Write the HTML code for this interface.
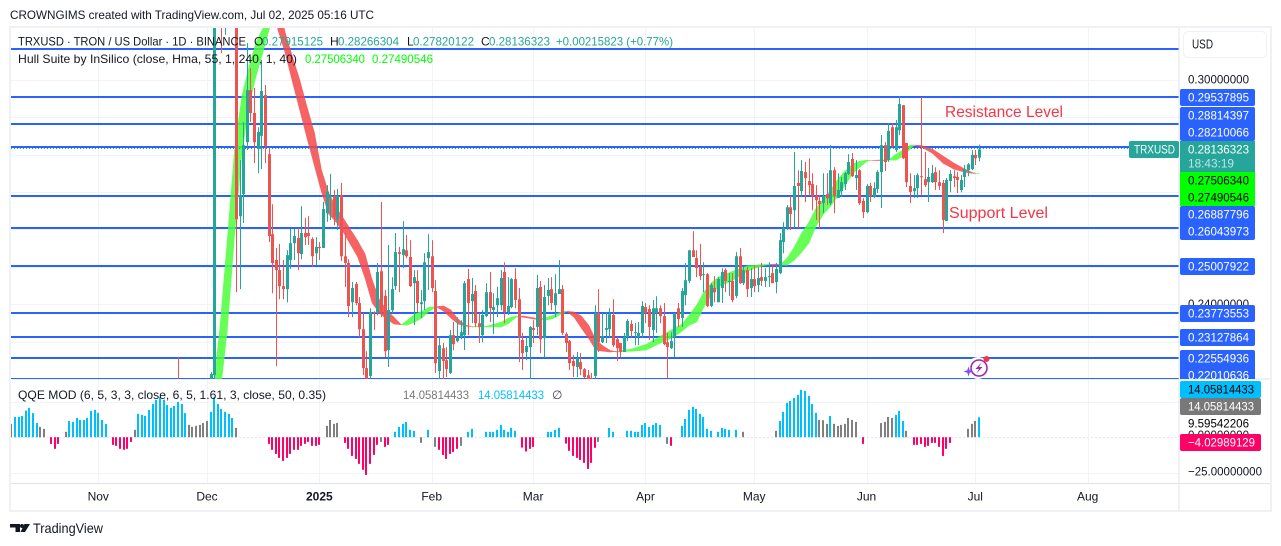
<!DOCTYPE html>
<html lang="en">
<head>
<meta charset="utf-8">
<title>TRXUSD chart</title>
<style>
html,body{margin:0;padding:0;background:#fff;width:1281px;height:546px;overflow:hidden}
svg{display:block}
text{font-family:"Liberation Sans",sans-serif;font-size:12px;fill:#131722;dominant-baseline:central}
.lb{fill:#fff}
.dk{fill:#000}
.tq{fill:#26a69a}
.lm{fill:#00ff00}
</style>
</head>
<body>
<svg id="chart" width="1281" height="546" viewBox="0 0 1281 546" xmlns="http://www.w3.org/2000/svg">
<defs>
<clipPath id="main-clip"><rect x="11" y="28" width="1168" height="351"/></clipPath>
<clipPath id="qqe-clip"><rect x="11" y="380" width="1168" height="103"/></clipPath>
<clipPath id="axis-clip"><rect x="1180" y="28" width="90" height="351"/></clipPath>
</defs>
<rect x="10" y="27" width="1261" height="484" fill="#fff" stroke="#f0f1f4" stroke-width="2"/>
<g id="grid"></g>
<g clip-path="url(#main-clip)">
<g id="levels"></g>
<g id="hull" opacity="0.85"></g>
<g id="candles"></g>
<line id="last-price" x1="11" x2="1130" stroke="#26a69a" stroke-width="1" stroke-dasharray="1 2"/>
</g>
<g clip-path="url(#qqe-clip)"><g id="qqe"></g></g>
<line x1="1179" y1="28" x2="1179" y2="510" stroke="#e0e3eb"/>
<line x1="1179" y1="379" x2="1270" y2="379" stroke="#e0e3eb"/>
<line x1="11" y1="483.5" x2="1270" y2="483.5" stroke="#e0e3eb"/>

<text x="10" y="15" textLength="364" lengthAdjust="spacingAndGlyphs">CROWNGIMS created with TradingView.com, Jul 02, 2025 05:16 UTC</text>

<g>
<text x="18" y="41.5" textLength="228" lengthAdjust="spacingAndGlyphs">TRXUSD · TRON / US Dollar · 1D · BINANCE</text>
<text x="254" y="41.5">O</text>
<text class="tq" x="262" y="41.5" textLength="61" lengthAdjust="spacingAndGlyphs">0.27915125</text>
<text x="330" y="41.5">H</text>
<text class="tq" x="338" y="41.5" textLength="61" lengthAdjust="spacingAndGlyphs">0.28266304</text>
<text x="407" y="41.5">L</text>
<text class="tq" x="413" y="41.5" textLength="61" lengthAdjust="spacingAndGlyphs">0.27820122</text>
<text x="481" y="41.5">C</text>
<text class="tq" x="489" y="41.5" textLength="61" lengthAdjust="spacingAndGlyphs">0.28136323</text>
<text class="tq" x="556" y="41.5" textLength="117" lengthAdjust="spacingAndGlyphs">+0.00215823 (+0.77%)</text>
</g>
<g>
<text x="18" y="59" textLength="279" lengthAdjust="spacingAndGlyphs">Hull Suite by InSilico (close, Hma, 55, 1, 240, 1, 40)</text>
<text class="lm" x="305" y="59" textLength="60" lengthAdjust="spacingAndGlyphs">0.27506340</text>
<text class="lm" x="372" y="59" textLength="61" lengthAdjust="spacingAndGlyphs">0.27490546</text>
</g>
<g>
<text x="18" y="395" textLength="308" lengthAdjust="spacingAndGlyphs">QQE MOD (6, 5, 3, 3, close, 6, 5, 1.61, 3, close, 50, 0.35)</text>
<text x="403" y="395" textLength="66" lengthAdjust="spacingAndGlyphs" style="fill:#787878">14.05814433</text>
<text x="478" y="395" textLength="66" lengthAdjust="spacingAndGlyphs" style="fill:#00bfff">14.05814433</text>
<text x="552" y="395" style="fill:#434651">∅</text>
</g>

<text x="945" y="112.5" textLength="118" lengthAdjust="spacingAndGlyphs" style="font-size:16px;fill:#f23645">Resistance Level</text>
<text x="949" y="213.5" textLength="99" lengthAdjust="spacingAndGlyphs" style="font-size:16px;fill:#f23645">Support Level</text>

<g>
<rect x="1183.5" y="31.5" width="83" height="26" rx="5" fill="#fff" stroke="#f0f1f4"/>
<text x="1192" y="44" textLength="21" lengthAdjust="spacingAndGlyphs" style="font-size:13px">USD</text>
</g>

<g>
<text x="1188" y="79.5" textLength="61" lengthAdjust="spacingAndGlyphs">0.30000000</text>
<text x="1188" y="304" textLength="61" lengthAdjust="spacingAndGlyphs">0.24000000</text>
<rect x="1180" y="89" width="75" height="17" rx="2" fill="#2962ff"/>
<text class="lb" x="1188" y="97.5" textLength="61" lengthAdjust="spacingAndGlyphs">0.29537895</text>
<rect x="1180" y="107" width="75" height="34" rx="2" fill="#2962ff"/>
<text class="lb" x="1188" y="115.5" textLength="61" lengthAdjust="spacingAndGlyphs">0.28814397</text>
<text class="lb" x="1188" y="132.5" textLength="61" lengthAdjust="spacingAndGlyphs">0.28210066</text>
<rect x="1180" y="206" width="75" height="34" rx="2" fill="#2962ff"/>
<text class="lb" x="1188" y="214.5" textLength="61" lengthAdjust="spacingAndGlyphs">0.26887796</text>
<text class="lb" x="1188" y="231.5" textLength="61" lengthAdjust="spacingAndGlyphs">0.26043973</text>
<rect x="1180" y="141" width="75" height="31" fill="#26a69a"/>
<text class="lb" x="1188" y="149.5" textLength="61" lengthAdjust="spacingAndGlyphs">0.28136323</text>
<text x="1188" y="163.5" textLength="46" lengthAdjust="spacingAndGlyphs" style="fill:#bfe5e1">18:43:19</text>
<rect x="1180" y="172" width="75" height="34" fill="#00ff00"/>
<text class="dk" x="1188" y="180.5" textLength="61" lengthAdjust="spacingAndGlyphs">0.27506340</text>
<text class="dk" x="1188" y="197.5" textLength="61" lengthAdjust="spacingAndGlyphs">0.27490546</text>
<rect x="1180" y="258" width="75" height="17" rx="2" fill="#2962ff"/>
<text class="lb" x="1188" y="266.5" textLength="61" lengthAdjust="spacingAndGlyphs">0.25007922</text>
<rect x="1180" y="305" width="75" height="17" rx="2" fill="#2962ff"/>
<text class="lb" x="1188" y="313.5" textLength="61" lengthAdjust="spacingAndGlyphs">0.23773553</text>
<rect x="1180" y="329" width="75" height="17" rx="2" fill="#2962ff"/>
<text class="lb" x="1188" y="337.5" textLength="61" lengthAdjust="spacingAndGlyphs">0.23127864</text>
<g clip-path="url(#axis-clip)">
<rect x="1180" y="350" width="75" height="34" rx="2" fill="#2962ff"/>
<text class="lb" x="1188" y="358.5" textLength="61" lengthAdjust="spacingAndGlyphs">0.22554936</text>
<text class="lb" x="1188" y="375.5" textLength="61" lengthAdjust="spacingAndGlyphs">0.22010636</text>
</g>
</g>
<g>
<rect x="1129" y="141" width="50" height="17" rx="2" fill="#26a69a"/>
<text class="lb" x="1134" y="149.5" textLength="41" lengthAdjust="spacingAndGlyphs">TRXUSD</text>
</g>

<g>
<text x="1188" y="435" textLength="61" lengthAdjust="spacingAndGlyphs">0.00000000</text>
<rect x="1180" y="381" width="81" height="17" rx="2" fill="#00bfff"/>
<text class="dk" x="1188" y="389.5" textLength="66" lengthAdjust="spacingAndGlyphs">14.05814433</text>
<rect x="1180" y="398" width="81" height="17" rx="2" fill="#787878"/>
<text class="lb" x="1188" y="406.5" textLength="66" lengthAdjust="spacingAndGlyphs">14.05814433</text>
<text class="dk" x="1188" y="423.5" textLength="61" lengthAdjust="spacingAndGlyphs">9.59542206</text>
<rect x="1180" y="434" width="81" height="17" rx="2" fill="#ff0066"/>
<text class="lb" x="1188" y="442.5" textLength="67" lengthAdjust="spacingAndGlyphs">−4.02989129</text>
<text x="1188" y="471.5" textLength="74" lengthAdjust="spacingAndGlyphs">−25.00000000</text>
</g>

<g id="time-axis"></g>

<g transform="translate(979 368)">
<circle cx="-1" r="11" fill="#fff"/>
<circle r="8" fill="none" stroke="#9c27b0" stroke-width="1.6"/>
<path d="M2.5-5.5-3.5 1H0L-2.5 5.5 3.5-1H0Z" fill="#9c27b0"/>
<circle cx="7.5" cy="-9" r="3" fill="#f23645"/>
<path d="M-10.5-1.5-9.3 2.3-5.5 3.5-9.3 4.7-10.5 8.5-11.7 4.7-15.5 3.5-11.7 2.3Z" fill="#7b4dff"/>
</g>

<g>
<path d="M10 524H20V532H15.5V527.5H10ZM24.5 524H30L25 532H20.5Z" fill="#131722"/>
<circle cx="22" cy="526" r="2" fill="#131722"/>
<text x="33" y="528" textLength="70" lengthAdjust="spacingAndGlyphs" style="font-size:14px">TradingView</text>
</g>
</svg>

<script>
/* Prices are in thousandths of a US dollar (mUSD). One candle per day, oldest first; the last one is the current bar. */
const opens = [
216,215,216,215,217,216,217,216,218,217,
221.0,330,338,325,332,325,330,263.5,269.4,283.3,
297.2,291.1,281.5,285.0,295.9,280.1,258.7,251.8,249.1,244.8,
244.0,251.8,256.3,257.7,253.4,259.0,259.0,257.4,253.6,255.3,
255.0,264.3,268.6,268.9,262.7,269.2,252.8,251.0,240.5,245.4,
240.3,233.3,222.9,220.8,237.9,237.6,248.8,242.2,227.7,238.4,
244.8,253.9,253.1,254.4,252.6,245.6,246.2,240.0,240.8,252.3,
252.8,243.5,222.1,228.2,225.0,221.6,231.7,230.1,231.2,231.7,
246.7,240.8,243.5,234.9,231.7,236.8,243.2,238.4,239.7,239.7,
248.6,237.9,239.2,246.7,241.3,230.4,227.2,228.5,233.6,233.9,
244.6,230.9,242.2,244.0,239.7,242.7,244.0,232.0,230.1,224.8,
223.2,224.5,222.6,221.0,220.2,220.8,237.6,229.8,233.1,233.3,
237.1,230.6,229.6,227.2,231.2,234.7,232.3,231.2,232.3,239.2,
238.7,233.1,237.6,238.9,236.8,229.8,228.2,231.2,238.9,236.3,
242.4,246.2,254.4,252.3,249.9,247.8,248.0,239.5,244.3,240.5,
244.3,249.1,245.9,246.2,242.2,252.8,245.6,249.1,244.3,246.7,
245.1,247.2,246.2,247.2,248.3,245.9,248.3,256.6,260.6,265.9,
265.1,272.4,270.2,275.3,272.9,272.1,268.9,267.6,267.0,269.4,
267.0,275.8,268.4,270.2,272.1,274.8,278.8,273.7,275.8,267.6,
264.6,271.6,268.6,270.8,275.3,282.5,278.5,287.3,281.2,286.5,
293.2,283.1,271.6,270.2,271.0,274.2,273.4,272.6,272.6,275.3,
272.6,272.4,262.2,272.9,274.2,274.0,270.5,274.0,275.8,276.1,279.9,279.15
];
const highs = [
225.9,217,218,218,219,218,219,218,219.5,221.8,
336,345,345,340,338,336,340,278.5,288.7,309.8,
303.1,297.8,287.3,305.3,298.6,282.0,266.7,255.0,256.1,251.8,
254.4,260.1,260.1,260.3,266.2,263.0,263.5,257.9,257.9,256.6,
267.3,271.8,274.8,270.5,270.8,272.4,259.0,252.0,245.9,245.9,
241.9,237.6,227.4,238.9,238.1,251.0,267.3,243.8,255.8,247.2,
259.0,255.3,262.2,258.5,257.1,249.1,249.1,243.8,253.6,258.7,
257.1,246.4,231.2,229.6,228.5,233.1,235.2,236.5,235.7,246.2,
249.4,247.0,245.1,237.6,238.4,245.6,248.6,242.9,244.6,249.1,
251.2,247.2,247.0,249.6,244.3,232.3,231.2,234.1,235.7,247.8,
246.2,245.1,247.0,247.2,248.0,251.8,245.1,232.5,230.4,226.4,
227.2,226.9,222.9,222.4,221.6,239.7,244.0,237.6,237.9,238.9,
241.3,231.2,229.6,232.3,236.0,235.7,234.9,235.2,240.8,240.3,
239.7,241.1,242.1,239.7,240.3,232.3,232.5,237.6,240.3,244.3,
251.0,254.4,259.5,254.4,256.1,251.2,248.3,245.6,247.5,247.2,
249.6,249.6,248.3,248.3,253.9,255.0,249.9,249.9,249.6,250.4,
249.9,251.0,249.6,251.2,250.4,251.0,259.0,261.9,266.5,268.9,
280.7,275.8,278.5,278.0,279.0,275.0,271.8,269.2,275.0,275.0,
282.5,276.6,275.0,274.0,275.3,280.1,280.4,278.5,276.1,268.4,
272.1,272.4,272.6,275.8,285.2,283.3,288.4,288.4,289.2,295.6,
293.2,283.1,275.0,274.5,275.0,295.4,280.7,276.4,277.2,276.6,
275.8,273.2,273.7,275.8,275.8,275.3,274.5,277.2,277.7,281.2,281.2,282.66
];
const lows = [
214,213,214,213,215,214,215,214,216,215,
219,325,307.1,312,318,318,243.2,244.0,261.7,281.2,
288.7,277.7,275.0,276.1,277.7,256.6,242.9,223.4,241.3,241.3,
240.5,249.4,251.8,249.1,252.0,255.8,255.8,249.9,250.4,251.8,
255.0,262.0,262.5,261.1,259.8,251.5,244.6,236.5,236.5,239.7,
231.2,221.0,217,219,233.1,237.0,236.5,225.8,223.2,237.6,
243.8,243.2,249.6,252.3,244.6,234.4,237.9,236.3,238.4,243.8,
243.2,221.6,219,219,220.5,221.3,227.7,229.8,230.6,227.7,
231.7,234.9,233.9,229.6,229.8,236.5,235.2,232.0,236.5,238.4,
234.9,237.1,238.9,238.9,224.5,222.4,225.0,219,229.6,231.7,
226.9,225.8,239.7,238.4,236.5,242.7,231.7,227.2,222.4,220.5,
220.5,221.0,220.2,218,217.5,219,227.2,229.6,229.6,230.9,
228.5,224.8,225.8,227.2,230.1,231.2,229.0,229.0,230.9,234.9,
230.4,229.8,232.3,234.9,229.0,220.2,228.0,225.8,233.9,233.9,
239.7,245.6,252.6,247.2,246.4,243.2,239.2,239.2,240.5,240.5,
240.3,243.2,242.2,240.5,241.6,245.4,245.1,241.9,241.9,243.2,
243.2,244.8,244.6,244.6,245.6,242.9,248.0,253.6,259.8,259.8,
260.3,260.3,268.6,267.3,269.2,265.1,262.5,260.3,264.3,266.5,
266.5,264.3,268.4,268.6,270.5,274.5,274.0,270.5,266.5,263.0,
264.3,267.3,268.4,269.7,265.7,275.6,278.0,281.7,280.7,285.2,
278.8,271.3,267.0,268.4,268.4,269.2,271.3,267.3,272.4,270.5,
270.5,259.0,262.2,269.9,271.3,269.7,269.9,271.3,274.2,275.8,277.2,278.2
];
const closes = [
215,216,215,217,216,217,216,218,217,221.3,
330,338,325,332,325,330,262.7,269.2,282.5,297.2,
291.1,283.3,286.0,297.0,282.3,258.2,251.0,249.1,244.8,244.0,
253.1,256.3,258.2,253.6,259.0,257.9,258.2,252.8,255.3,255.0,
265.4,270.0,268.9,263.3,268.9,252.8,251.0,239.5,244.3,240.3,
233.3,222.9,219.7,237.9,237.6,248.6,237.9,227.4,238.4,244.0,
253.9,253.4,254.7,252.8,244.8,247.2,240.3,240.5,251.2,253.9,
244.3,224.2,229.0,224.8,222.6,231.7,229.3,231.2,232.5,245.6,
240.3,242.7,234.9,233.9,237.1,243.2,238.9,239.2,241.6,247.0,
237.9,239.5,246.7,241.1,231.2,226.9,228.8,233.9,233.1,244.3,
230.6,241.9,243.8,240.3,242.9,244.0,232.3,229.6,224.2,223.4,
225.6,222.6,220.5,219.5,218.0,237.6,229.8,231.5,233.6,237.3,
229.0,228.2,227.2,231.2,235.5,232.8,232.5,232.3,239.5,237.6,
233.9,238.9,238.9,236.8,229.3,228.5,230.1,237.6,236.0,243.5,
246.4,254.4,252.6,249.6,247.5,248.0,239.5,245.1,243.2,246.7,
248.6,246.2,246.2,241.1,252.8,245.6,249.1,244.0,246.7,244.8,
247.0,246.2,247.2,247.5,245.6,249.4,257.1,260.3,265.9,264.1,
271.6,271.6,275.6,273.7,271.8,268.9,267.8,266.7,268.9,268.3,
275.8,268.9,270.5,272.6,275.0,278.0,274.2,274.5,267.0,264.6,
271.6,268.9,271.0,275.3,282.5,278.0,286.3,282.3,287.3,293.5,
279.0,272.6,270.0,271.0,274.5,274.0,271.8,274.0,275.0,272.6,
271.6,262.5,273.2,274.8,273.7,273.2,273.2,276.1,277.4,279.9,279.0,281.36
];

/* Hull Suite lines, sampled: bars before the current bar, fast line, slow line (mUSD). */
const hullBarsAgo = [211.4,209.4,207.4,205.4,203.4,201.4,199.4,197.4,195.4,194.4,193.4,191.4,189.4,187.4,185.4,183.4,181.4,179.4,177.4,175.4,171.4,169.4,167.4,165.4,163.4,161.4,159.4,157.7,155.7,153.7,151.7,149.7,147.7,145.7,143.7,141.7,139.7,135.7,131.7,129.7,127.7,126.7,125.7,122.7,121.7,119.7,117.7,114.7,113.7,111.7,109.7,107.7,105.7,103.7,101.7,99.9,95.9,91.9,87.9,83.9,81.9,79.9,77.9,75.9,73.9,71.9,67.9,63.9,59.9,57.9,55.9,54.9,52.9,50.9,48.9,46.9,44.9,42.9,40.9,38.9,36.9,34.9,32.9,30.9,29.9,27.9,25.9,24.9,22.9,20.9,18.9,17.9,15.9,12.9,9.9,6.9,3.9,1.9,0.9,0];
const hullFast = [215.7,234.1,257.1,281.2,295.4,303.6,310.1,314.1,321.3,318.6,313.3,307.1,299.4,291.9,284.4,277.2,270.0,264.1,262.0,259.3,252.6,247.0,240.3,237.6,236.0,234.7,234.5,235.7,237.3,238.1,239.2,239.3,238.1,236.3,234.7,234.1,234.0,234.1,235.2,236.3,236.8,236.7,236.5,236.0,236.0,236.3,236.9,238.1,238.1,236.5,233.6,230.9,227.7,227.4,227.2,227.4,228.0,229.2,231.4,233.6,234.7,237.1,239.7,243.2,245.6,247.2,248.8,250.2,250.6,250.6,250.4,250.5,252.3,255.3,259.0,261.9,265.7,268.1,270.5,273.4,275.6,277.4,278.2,278.5,278.4,278.4,278.4,278.5,280.1,281.2,282.5,282.5,282.0,280.4,277.7,276.1,275.3,275.0,274.95,275.06];
const hullSlow = [199.6,215.7,233.1,258.5,279.9,293.2,301.2,307.9,315.0,318.6,321.3,312.5,306.1,299.9,292.7,286.0,275.8,269.7,265.9,263.0,256.9,253.4,246.4,241.1,238.4,236.5,234.5,234.4,235.2,236.3,238.1,239.3,239.5,238.4,236.0,234.4,233.9,233.9,233.9,234.9,236.5,236.7,236.8,236.3,236.0,235.7,236.1,237.6,238.1,237.9,236.8,234.4,230.4,228.8,227.6,227.2,227.4,227.7,229.6,231.4,232.8,234.4,235.2,239.2,242.4,244.6,246.4,248.8,250.2,250.6,250.7,250.5,250.4,251.8,253.9,256.3,260.9,264.1,266.2,268.9,271.8,274.8,276.6,278.2,278.4,278.5,278.5,278.5,278.5,279.6,281.5,282.5,282.4,281.5,279.6,277.7,276.1,275.2,275.0,274.91];

/* Horizontal support / resistance levels (mUSD). */
const levelPrices = [308.3,295.38,288.14,282.10,268.88,260.44,250.08,237.74,231.28,225.55,220.11];
const gridPrices = [300,290,280,270,260,250,240,230,220];
const lastPrice = 281.36;

/* Time axis. */
const monthLabels = ["Nov","Dec","2025","Feb","Mar","Apr","May","Jun","Jul","Aug"];
const monthBarsAgo = [243,213,182,151,123,92,62,31,1,-30];

/* QQE MOD histogram, oldest first; null where nothing is plotted. */
const qqeValues = [
9.4,14.3,14.3,15,18.8,20.7,17,10,7.3,5.9,null,-4.7,-8.2,-4.7,null,3.8,
11.5,10.8,13.6,12.2,12.2,13.6,18.6,19.3,17.2,12.2,9.4,null,-5.4,-6.1,-8.2,-8.9,-8.2,-3.3,5.2,
16.5,15.8,15,19.3,23.5,26.4,28.2,26.4,22.8,20.7,22.1,24.9,23.5,17,
8.7,7.3,8,8.7,10,11.5,17.9,28.2,23.5,20,17.9,16.5,13.6,6.6,
null,null,null,null,null,null,null,null,
-4.7,-8.9,-11.8,-14.6,-16.7,-14.6,-11.8,-8.9,-8.9,-6.1,-4.7,-3.3,-6.1,-6.1,-5.4,null,
8,12.2,9.4,10,null,-4,-8.2,-13.2,-15.3,-18.8,-23,-26.6,-18.8,-12.5,-5.4,-3.3,-6.8,-5.4,null,
3.8,7.3,9.4,10.8,5.2,4.5,null,-4,null,5.2,null,-6.8,-8.9,-12.5,-15.3,-11.8,-10.4,-8.2,-6.1,null,
3.8,5.9,null,null,null,3.8,3.8,3.8,5.2,
8.7,5.2,3.8,6.6,4.5,null,-7.3,-10.1,-8.2,-6.8,null,null,null,3.8,3.8,5.2,6.6,null,
-4.5,-9.6,-13.2,-14.6,-16,-18.1,-22.4,-18.1,-7.5,-3.3,null,null,6.6,3.8,null,null,null,
4.5,4.5,3.8,3.8,8.7,10,7.3,8.7,10,8.7,null,-4.7,-6.1,null,null,
8,12.9,19.3,21.4,20,16.5,14.3,5.9,4.5,null,3.8,6.6,5.9,5.2,null,5.2,null,3.8,
null,null,null,null,null,null,null,null,
4.5,11.5,17.9,24.2,25.6,27.8,29.9,33.4,32.7,29.2,23.5,17.2,12.2,12,9.4,15,
9.4,8,8.7,9.4,13.6,12.2,10.8,null,-4.7,null,null,null,null,
10,10.8,14.3,13.6,15.8,18.6,11.5,4.5,null,
-5.4,-5.4,-4.7,-6.8,-6.1,-4,-4,-6.8,-13.2,-8.2,-4,null,null,null,null,
5.9,9.4,11.5,14.06
];
/* Colour class per bar: b blue, g gray, r red, - none. */
const qqeKinds = ("g bbbbbbb gg - rrr - g bbbbbbbbbbb - rrrrrr g bbbbbbbbbbbbbb gggggg bbbbbbb g -------- " +
"rrrrrrrrrrrrrrr - gggg - rrrrrrrrrr g rr - bbbbbb - g - b - g rrrrrr g - bb --- bbbb " +
"bbbbb - rrrr --- bbbb - rrrrrrrrr g -- bb --- bbbbbbbbbb - g r -- bbbbbbbbb - bbbb - b - g -------- " +
"g bbbbbbbbbbb ggg b ggggggg - r ---- gggg bbb g - rrrrrrrrrrr ---- ggg b").replace(/ /g, "");

const qqeGridValues = [25,-25];

/* Axis functions */
const SVGNS = "http://www.w3.org/2000/svg";
function xAt(barsAgo) { return 978.9 - 3.624 * barsAgo; }
function yPrice(p) { return 97 + (295.38 - p) * 3.74; }
function yQqe(v) { return 437.2 - v * 1.417; }
function mk(tag, parent, attrs) {
  const el = document.createElementNS(SVGNS, tag);
  for (const k in attrs) el.setAttribute(k, attrs[k]);
  parent.appendChild(el);
  return el;
}

const gridG = document.getElementById("grid");
const levelsG = document.getElementById("levels");
const hullG = document.getElementById("hull");
const candlesG = document.getElementById("candles");
const qqeG = document.getElementById("qqe");
const timeG = document.getElementById("time-axis");

/* Grid */
gridPrices.forEach(function (p) {
  const el = mk("line", gridG, {x1: 11, x2: 1179, y1: Math.round(yPrice(p)) + 0.5, y2: Math.round(yPrice(p)) + 0.5, stroke: "#f0f3fa"});
  
  
});
qqeGridValues.forEach(function (v) {
  const el = mk("line", gridG, {x1: 11, x2: 1179, y1: Math.round(yQqe(v)) + 0.5, y2: Math.round(yQqe(v)) + 0.5, stroke: "#f0f3fa"});
  
  
});
const zeroLine = mk("line", gridG, {x1: 11, x2: 1179, y1: Math.round(yQqe(0)) + 0.5, y2: Math.round(yQqe(0)) + 0.5, stroke: "#e6e8ee", "stroke-dasharray": "2 2"});



monthLabels.forEach(function (label, i) {
  const x = xAt(monthBarsAgo[i]);
  const line = mk("line", gridG, {x1: Math.round(x) + 0.5, x2: Math.round(x) + 0.5, y1: 28, y2: 483, stroke: "#f0f3fa"});
  
  
  const t = mk("text", timeG, {x: x, y: 496.5, "text-anchor": "middle"});
  
  
  t.textContent = label;
  if (label === "2025") t.setAttribute("font-weight", "bold");
});

/* Level lines */
levelPrices.forEach(function (p) {
  const el = mk("rect", levelsG, {x: 11, width: 1168, y: Math.round(yPrice(p)) - 1, height: 2, fill: "#2962ff"});
  
  
});

/* Hull band */
for (let i = 0; i < hullBarsAgo.length - 1; i++) {
  const x0 = xAt(hullBarsAgo[i]), x1 = xAt(hullBarsAgo[i + 1]);
  const up = (hullFast[i] + hullFast[i + 1]) >= (hullSlow[i] + hullSlow[i + 1]);
  const pts = [
    x0 + "," + yPrice(hullFast[i]),
    x1 + "," + yPrice(hullFast[i + 1]),
    x1 + "," + yPrice(hullSlow[i + 1]),
    x0 + "," + yPrice(hullSlow[i])
  ].join(" ");
  const seg = mk("polygon", hullG, {points: pts, fill: up ? "#4dff3a" : "#f44848", stroke: up ? "#4dff3a" : "#f44848", "stroke-width": 0.6});
  
  
}

/* Candles */
opens.forEach(function (o, i) {
  const barsAgo = opens.length - 1 - i;
  const c = closes[i];
  const col = c >= o ? "#26a69a" : "#ef5350";
  const cx = Math.round(xAt(barsAgo));
  const wickTop = yPrice(highs[i]), wickBot = yPrice(lows[i]);
  const wick = mk("rect", candlesG, {x: cx, width: 1, y: wickTop, height: Math.max(1, wickBot - wickTop), fill: col});
  
  
  const top = yPrice(Math.max(o, c)), bot = yPrice(Math.min(o, c));
  const body = mk("rect", candlesG, {x: cx - 1, width: 3, y: top, height: Math.max(1, bot - top), fill: col});
  
  
});

const lastLine = document.getElementById("last-price");
lastLine.setAttribute("y1", Math.round(yPrice(lastPrice)) - 0.5);
lastLine.setAttribute("y2", Math.round(yPrice(lastPrice)) - 0.5);

/* QQE histogram */
const qqeColors = {b: "#00bfff", g: "#808080", r: "#ff0066"};
qqeValues.forEach(function (v, i) {
  if (v === null) return;
  const barsAgo = qqeValues.length - 1 - i;
  const y0 = yQqe(0), yv = yQqe(v);
  const bar = mk("rect", qqeG, {
    x: Math.round(xAt(barsAgo)) - 1, width: 2,
    y: Math.min(y0, yv), height: Math.abs(y0 - yv),
    fill: qqeColors[qqeKinds[i]] || "#808080"
  });
  
  
});
</script>
</body>
</html>
